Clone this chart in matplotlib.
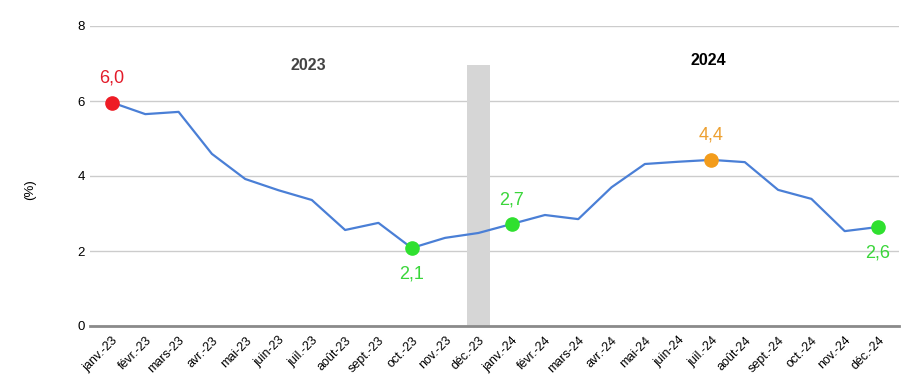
import matplotlib
matplotlib.use("Agg")
import matplotlib.pyplot as plt

plt.rcParams['font.family'] = ['Liberation Sans', 'DejaVu Sans']

months = ["janv.-23", "févr.-23", "mars-23", "avr.-23", "mai-23", "juin-23",
          "juil.-23", "août-23", "sept.-23", "oct.-23", "nov.-23", "déc.-23",
          "janv.-24", "févr.-24", "mars-24", "avr.-24", "mai-24", "juin-24",
          "juil.-24", "août-24", "sept.-24", "oct.-24", "nov.-24", "déc.-24"]
rates = [5.96, 5.65, 5.71, 4.59, 3.92, 3.62, 3.36, 2.56, 2.75, 2.08, 2.35, 2.48,
         2.72, 2.96, 2.85, 3.70, 4.32, 4.38, 4.43, 4.37, 3.63, 3.39, 2.53, 2.64]

# separator bar between the two years
sep_index = 11
sep_height = 6.97

# highlighted points: (index, label, colour, above?)
highlights = [(0, "6,0", "#ee1c25", True),
              (9, "2,1", "#2fe02f", False),
              (12, "2,7", "#2fe02f", True),
              (18, "4,4", "#f39c1b", True),
              (23, "2,6", "#2fe02f", False)]
label_colors = {"#ee1c25": "#e31b2a", "#2fe02f": "#3ad63a", "#f39c1b": "#eda030"}

years = [("2023", 5.9, 6.96, "#444444"), ("2024", 17.9, 7.09, "#000000")]

fig = plt.figure(figsize=(9.24, 3.88), dpi=100)
ax = fig.add_axes([90 / 924, 1 - 326 / 388, 809 / 924, 300 / 388])

x = list(range(len(months)))
ax.bar([sep_index], [sep_height], width=0.7, color="#d6d6d6", zorder=2)
ax.plot(x, rates, color="#4a7fd6", lw=1.6, zorder=3)

for i, txt, col, above in highlights:
    ax.plot(i, rates[i], "o", color=col, ms=9.5, zorder=4)
    dy = 0.65 if above else -0.7
    ax.text(i, rates[i] + dy, txt, color=label_colors[col], fontsize=13,
            ha="center", va="center", zorder=5)

for txt, xpos, ypos, col in years:
    ax.text(xpos, ypos, txt, color=col, fontsize=11.5, fontweight="bold",
            ha="center", va="center")

ax.set_xlim(-0.66, 23.63)
ax.set_ylim(0, 8)
ax.set_yticks([0, 2, 4, 6, 8])
ax.set_xticks(x)
ax.set_xticklabels(months, rotation=45, ha="right", rotation_mode="anchor")
ax.tick_params(axis="both", length=0, labelsize=9.5)
ax.tick_params(axis="x", labelsize=9, pad=6)
ax.yaxis.grid(True, color="#cccccc", lw=1, zorder=0)
ax.set_axisbelow(True)
for s in ["top", "right", "left"]:
    ax.spines[s].set_visible(False)
ax.spines["bottom"].set_color("#8a8a8a")
ax.spines["bottom"].set_linewidth(2)
ax.set_ylabel("(%)", fontsize=9.5, va="center")
ax.yaxis.set_label_coords(-0.074, 0.453)

fig.savefig("out.png", dpi=100)
